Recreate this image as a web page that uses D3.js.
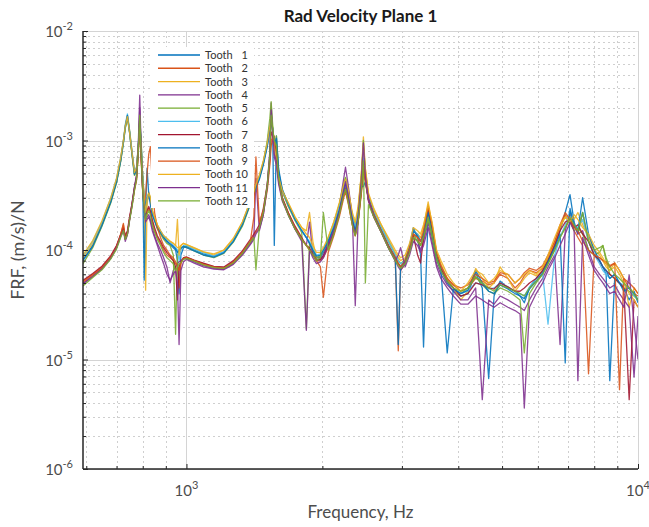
<!DOCTYPE html>
<html>
<head>
<meta charset="utf-8">
<script src="https://cdn.jsdelivr.net/npm/d3@7/dist/d3.min.js"></script>
<style>
  html, body { margin: 0; padding: 0; background: #fff; }
  svg { display: block; font-family: Lato, "Open Sans", "Noto Sans", sans-serif; }
</style>
</head>
<body>
<svg id="chart" width="649" height="527"></svg>
<script>
// ---------------- DATA ----------------
const freq = [
  590, 620, 650, 680, 700, 715, 725, 732, 740, 748,
  758, 767, 775, 782, 788, 794, 800, 806, 812, 818,
  825, 832, 840, 850, 862, 876, 890, 905, 920, 935,
  946, 955, 963, 972, 985, 1000, 1040, 1090, 1150, 1210,
  1270, 1330, 1385, 1410, 1425, 1450, 1480, 1510, 1530, 1540,
  1552, 1565, 1582, 1600, 1630, 1680, 1740, 1800, 1843, 1873,
  1905, 1940, 1980, 2010, 2060, 2120, 2180, 2230, 2250, 2280,
  2330, 2365, 2400, 2440, 2465, 2490, 2530, 2600, 2700, 2800,
  2900, 2945, 2980, 3050, 3120, 3180, 3250, 3300, 3350, 3430,
  3500, 3580, 3660, 3780, 3900, 4050, 4200, 4370, 4520, 4670,
  4800, 4950, 5150, 5340, 5480, 5600, 5750, 5950, 6150, 6320,
  6540, 6720, 6900, 7070, 7220, 7360, 7540, 7770, 8000, 8220,
  8360, 8500, 8660, 8880, 9100, 9300, 9560, 9800, 10000
];

const tooth1 = [
  8.2e-5, 1.1e-4, 1.7e-4, 2.8e-4, 4.2e-4, 6.5e-4, 9.5e-4, 1.3e-3, 1.65e-3, 1.2e-3,
  7.5e-4, 5.0e-4, 5.5e-4, 8.5e-4, 1.5e-3, 9e-4, 4.5e-4, 3.0e-4, 2.0e-4, 2.8e-4,
  3.2e-4, 2.8e-4, 2.2e-4, 1.9e-4, 1.6e-4, 1.45e-4, 1.3e-4, 1.2e-4, 1.12e-4, 1.05e-4,
  1.0e-4, 8e-5, 4e-5, 9e-5, 1.05e-4, 1.08e-4, 1.0e-4, 9.2e-5, 8.8e-5, 9.6e-5,
  1.2e-4, 1.7e-4, 2.7e-4, 3.3e-4, 3.8e-4, 4.6e-4, 6.2e-4, 9e-4, 1.3e-3, 1.6e-3,
  1.2e-3, 1.1e-4, 1.1e-3, 5.2e-4, 3.5e-4, 2.6e-4, 1.9e-4, 1.5e-4, 1.3e-4, 1.15e-4,
  9.5e-5, 8.5e-5, 8.5e-5, 9.5e-5, 1.2e-4, 1.6e-4, 2.4e-4, 3.6e-4, 4.2e-4, 3.3e-4,
  1.9e-4, 1.5e-4, 2.1e-4, 4e-4, 6.5e-4, 4.5e-4, 2.9e-4, 2.1e-4, 1.5e-4, 1.1e-4,
  8.5e-5, 7.5e-5, 7e-5, 8e-5, 1.1e-4, 1.6e-4, 1.3e-4, 9e-5, 1.3e-5, 2.1e-4,
  1.4e-4, 8.5e-5, 6.5e-5, 5e-5, 4.2e-5, 3.8e-5, 4e-5, 6.2e-5, 4.5e-5, 6.7e-6,
  3.8e-5, 5.2e-5, 4.5e-5, 4.2e-5, 3.8e-5, 3.3e-5, 4.5e-5, 5.5e-5, 6.5e-5, 8e-5,
  1.1e-4, 1.5e-4, 2.2e-4, 3.2e-4, 1.8e-4, 1.4e-4, 2.2e-4, 1.2e-4, 9e-5, 8e-5,
  7e-5, 6e-5, 6.4e-6, 5.5e-5, 5e-5, 4.5e-5, 3.5e-5, 4.2e-5, 3.3e-5
];
const tooth2 = [
  5.2e-5, 6e-5, 7e-5, 8.8e-5, 1.08e-4, 1.4e-4, 1.7e-4, 1.3e-4, 1.45e-4, 1.9e-4,
  2.6e-4, 3.6e-4, 4.4e-4, 7.5e-4, 1.5e-3, 6.5e-4, 3.4e-4, 2.4e-4, 2.0e-4, 2.2e-4,
  2.4e-4, 2.2e-4, 1.8e-4, 1.5e-4, 1.3e-4, 1.15e-4, 1.0e-4, 9e-5, 8.5e-5, 8e-5,
  7.5e-5, 7e-5, 4.5e-5, 7.5e-5, 8.5e-5, 8.6e-5, 8e-5, 7.5e-5, 7e-5, 6.9e-5,
  7.8e-5, 9.5e-5, 1.2e-4, 1.35e-4, 1.45e-4, 1.6e-4, 2.2e-4, 3.5e-4, 6e-4, 9e-4,
  1.0e-3, 1.1e-3, 8e-4, 4.5e-4, 3e-4, 2.2e-4, 1.6e-4, 1.25e-4, 1.1e-4, 1.0e-4,
  9e-5, 8e-5, 8e-5, 8.5e-5, 1.05e-4, 1.4e-4, 2.1e-4, 3.2e-4, 3.5e-4, 2.8e-4,
  1.7e-4, 1.35e-4, 1.8e-4, 3.3e-4, 5.5e-4, 4.2e-4, 2.8e-4, 2.0e-4, 1.45e-4, 1.05e-4,
  8e-5, 1.2e-5, 6.5e-5, 7.5e-5, 1.0e-4, 1.4e-4, 1.3e-4, 1.1e-4, 1.4e-4, 2.5e-4,
  1.6e-4, 9e-5, 7e-5, 5.5e-5, 4.8e-5, 4.2e-5, 4.5e-5, 5.5e-5, 5.2e-5, 4.8e-5,
  5e-5, 6e-5, 5.5e-5, 4.5e-5, 5e-5, 5.8e-5, 6.5e-5, 6.2e-5, 6.8e-5, 8.5e-5,
  1.15e-4, 1.6e-4, 2.1e-4, 1.8e-4, 1.5e-4, 1.3e-4, 1.1e-4, 7.4e-6, 9e-5, 8.5e-5,
  8e-5, 7.5e-5, 7e-5, 7.6e-5, 6.5e-5, 5.5e-5, 4.5e-5, 4e-5, 3.8e-5
];
const tooth3 = [
  8.5e-5, 1.15e-4, 1.75e-4, 2.9e-4, 4.4e-4, 6.8e-4, 1.0e-3, 1.35e-3, 1.7e-3, 1.25e-3,
  7.8e-4, 5.2e-4, 5.6e-4, 8.7e-4, 1.5e-3, 8e-4, 4.0e-4, 2.5e-4, 4.3e-5, 2.6e-4,
  3.4e-4, 3.0e-4, 2.3e-4, 2.0e-4, 1.7e-4, 1.5e-4, 1.35e-4, 1.25e-4, 1.2e-4, 1.15e-4,
  1.1e-4, 1.05e-4, 1.05e-4, 1.1e-4, 1.15e-4, 1.12e-4, 1.05e-4, 9.6e-5, 9e-5, 1.0e-4,
  1.25e-4, 1.8e-4, 2.8e-4, 3.4e-4, 3.9e-4, 4.8e-4, 6.5e-4, 9.5e-4, 1.4e-3, 1.8e-3,
  1.3e-3, 8.5e-4, 6e-4, 4.5e-4, 3.5e-4, 2.7e-4, 2.0e-4, 1.6e-4, 1.5e-4, 2.2e-4,
  1.2e-4, 8.5e-5, 9e-5, 1.0e-4, 1.3e-4, 1.8e-4, 2.6e-4, 3.9e-4, 4.5e-4, 3.6e-4,
  2.1e-4, 1.7e-4, 2.4e-4, 5e-4, 1.08e-3, 5.5e-4, 3.2e-4, 2.3e-4, 1.7e-4, 1.25e-4,
  9.5e-5, 8.5e-5, 8e-5, 8.5e-5, 1.1e-4, 1.5e-4, 1.4e-4, 1.3e-4, 1.6e-4, 2.75e-4,
  1.7e-4, 9.5e-5, 7.5e-5, 5.5e-5, 4.5e-5, 3.5e-5, 4.2e-5, 6.8e-5, 5.5e-5, 4.5e-5,
  5e-5, 7e-5, 5.5e-5, 4.2e-5, 4.8e-5, 5.5e-5, 6.2e-5, 5.8e-5, 6.5e-5, 8.5e-5,
  1.2e-4, 1.6e-4, 2e-4, 2.1e-4, 1.9e-4, 2.2e-4, 1.7e-4, 1.3e-4, 1e-4, 9e-5,
  8e-5, 7e-5, 6.5e-5, 7.6e-5, 6.5e-5, 5.5e-5, 3e-5, 4.5e-5, 4e-5
];
const tooth4 = [
  5e-5, 5.8e-5, 6.8e-5, 8.5e-5, 1.05e-4, 1.35e-4, 1.55e-4, 1.25e-4, 1.4e-4, 1.9e-4,
  2.7e-4, 3.8e-4, 4.8e-4, 9e-4, 2.6e-3, 8e-4, 3.6e-4, 2.5e-4, 1.9e-4, 2.0e-4,
  2.1e-4, 1.9e-4, 1.6e-4, 1.35e-4, 1.15e-4, 1.0e-4, 8.5e-5, 7e-5, 5e-5, 6.5e-5,
  7e-5, 7.5e-5, 7.8e-5, 8e-5, 8.3e-5, 8.4e-5, 7.8e-5, 7.2e-5, 6.8e-5, 6.7e-5,
  7.5e-5, 9.2e-5, 1.15e-4, 1.3e-4, 4.5e-4, 1.5e-4, 2.1e-4, 4e-4, 8e-4, 2.2e-3,
  1.2e-3, 7e-4, 6e-4, 4e-4, 2.8e-4, 2.1e-4, 1.55e-4, 1.25e-4, 1.1e-4, 1.8e-4,
  9e-5, 8e-5, 8.2e-5, 9e-5, 1.15e-4, 1.6e-4, 2.5e-4, 4.5e-4, 5.7e-4, 4e-4,
  2.0e-4, 3.1e-5, 1.9e-4, 3.8e-4, 7e-4, 4.5e-4, 2.8e-4, 2.0e-4, 1.45e-4, 1.05e-4,
  8e-5, 7e-5, 6.5e-5, 7.5e-5, 1.0e-4, 1.3e-4, 1.2e-4, 1.0e-4, 1.2e-4, 1.8e-4,
  1.2e-4, 7.5e-5, 6e-5, 4.8e-5, 4.2e-5, 3.5e-5, 3.5e-5, 4.5e-5, 4.3e-6, 3.5e-5,
  3.2e-5, 3.8e-5, 3.5e-5, 3.2e-5, 3e-5, 2.8e-5, 3.5e-5, 4.5e-5, 5.5e-5, 7e-5,
  9e-5, 1.37e-5, 1.5e-4, 2.2e-4, 1.7e-4, 1.4e-4, 1.5e-4, 1e-4, 7e-5, 6e-5,
  5.5e-5, 5e-5, 4.5e-5, 4.8e-5, 4e-5, 3.5e-5, 3e-5, 6.9e-6, 2.5e-5
];
const tooth5 = [
  7.5e-5, 1.05e-4, 1.65e-4, 2.7e-4, 4.1e-4, 6.4e-4, 9.5e-4, 1.3e-3, 1.6e-3, 1.2e-3,
  7.2e-4, 4.8e-4, 5.3e-4, 8.2e-4, 1.6e-3, 9.5e-4, 4.8e-4, 3.2e-4, 2.4e-4, 3.0e-4,
  3.3e-4, 2.9e-4, 2.2e-4, 1.85e-4, 1.55e-4, 1.4e-4, 1.25e-4, 1.15e-4, 1.1e-4, 9e-5,
  1.7e-5, 9e-5, 1.0e-4, 1.05e-4, 1.08e-4, 1.06e-4, 9.8e-5, 9e-5, 8.5e-5, 9.3e-5,
  1.18e-4, 1.65e-4, 2.6e-4, 3.2e-4, 3.7e-4, 4.5e-4, 6.2e-4, 1.0e-3, 1.6e-3, 2.26e-3,
  1.4e-3, 8e-4, 1.1e-3, 5e-4, 3.4e-4, 2.5e-4, 1.85e-4, 1.45e-4, 1.9e-5, 1.15e-4,
  1.0e-4, 8.5e-5, 8.8e-5, 1.0e-4, 1.25e-4, 1.7e-4, 2.6e-4, 4e-4, 4.6e-4, 3.5e-4,
  2.0e-4, 1.6e-4, 2.3e-4, 4.8e-4, 1.0e-3, 5.2e-4, 3.1e-4, 2.2e-4, 1.6e-4, 1.2e-4,
  9e-5, 8e-5, 7.5e-5, 8.2e-5, 1.05e-4, 1.4e-4, 1.2e-4, 1.1e-4, 1.3e-4, 1.9e-4,
  1.3e-4, 8e-5, 6.5e-5, 5.2e-5, 4.5e-5, 4e-5, 4.5e-5, 5.7e-5, 4.8e-5, 4.2e-5,
  4e-5, 4.5e-5, 4.2e-5, 3.8e-5, 3.5e-5, 1.15e-5, 4e-5, 5e-5, 6e-5, 7.5e-5,
  1e-4, 1.3e-4, 1.6e-4, 1.9e-4, 1.5e-4, 1.6e-4, 1.4e-4, 1.0e-4, 9e-5, 9.5e-5,
  1.1e-4, 8e-5, 6e-5, 5.5e-5, 5e-5, 4.5e-5, 4.2e-5, 3.8e-5, 3.5e-5
];
const tooth6 = [
  8.8e-5, 1.2e-4, 1.8e-4, 3.0e-4, 4.5e-4, 7e-4, 1.0e-3, 1.4e-3, 1.75e-3, 1.25e-3,
  7.8e-4, 5.2e-4, 5.7e-4, 8.8e-4, 1.55e-3, 8.8e-4, 4.4e-4, 2.9e-4, 2.3e-4, 2.9e-4,
  3.3e-4, 2.9e-4, 2.2e-4, 1.9e-4, 1.65e-4, 1.5e-4, 1.35e-4, 1.25e-4, 1.18e-4, 1.1e-4,
  1.05e-4, 1.0e-4, 8e-5, 1.0e-4, 1.1e-4, 1.1e-4, 1.02e-4, 9.4e-5, 8.8e-5, 9.6e-5,
  1.22e-4, 1.75e-4, 2.75e-4, 3.3e-4, 3.9e-4, 4.7e-4, 6.3e-4, 9.3e-4, 1.35e-3, 1.7e-3,
  1.25e-3, 8.2e-4, 7e-4, 4.8e-4, 3.5e-4, 2.6e-4, 1.9e-4, 1.5e-4, 1.3e-4, 1.2e-4,
  1.05e-4, 9e-5, 9.2e-5, 1.0e-4, 1.25e-4, 1.7e-4, 2.5e-4, 3.7e-4, 4.3e-4, 3.4e-4,
  2.0e-4, 1.6e-4, 2.2e-4, 4.4e-4, 8e-4, 4.8e-4, 3e-4, 2.2e-4, 1.6e-4, 1.2e-4,
  9e-5, 8e-5, 7.5e-5, 8e-5, 1.05e-4, 1.5e-4, 1.4e-4, 1.2e-4, 1.4e-4, 2.2e-4,
  1.5e-4, 9e-5, 7e-5, 5.2e-5, 4.5e-5, 4e-5, 4.2e-5, 5e-5, 4.8e-5, 4.4e-5,
  4.5e-5, 5e-5, 4.6e-5, 4.2e-5, 4e-5, 3.8e-5, 4.6e-5, 5.5e-5, 6e-5, 2.1e-5,
  9e-5, 1.3e-4, 1.7e-4, 2.3e-4, 1.7e-4, 1.6e-4, 1.9e-4, 1.2e-4, 9e-5, 7.5e-5,
  6.5e-5, 6e-5, 5.5e-5, 6e-5, 5e-5, 4.8e-5, 4.5e-5, 3.8e-5, 3.6e-5
];
const tooth7 = [
  5.3e-5, 6.1e-5, 7.1e-5, 8.9e-5, 1.1e-4, 1.38e-4, 1.6e-4, 1.35e-4, 1.5e-4, 2e-4,
  2.7e-4, 3.7e-4, 4.6e-4, 8e-4, 1.6e-3, 7e-4, 3.5e-4, 2.5e-4, 2.1e-4, 2.3e-4,
  2.5e-4, 2.3e-4, 1.9e-4, 1.6e-4, 1.35e-4, 1.2e-4, 1.05e-4, 9.5e-5, 8.8e-5, 8e-5,
  7e-5, 3.5e-5, 7e-5, 7.8e-5, 8.5e-5, 8.6e-5, 8.1e-5, 7.6e-5, 7.1e-5, 7e-5,
  8e-5, 9.8e-5, 1.25e-4, 1.4e-4, 1.5e-4, 1.7e-4, 2.4e-4, 4e-4, 7e-4, 1.2e-3,
  1.1e-3, 9e-4, 8.5e-4, 4.6e-4, 3e-4, 2.2e-4, 1.65e-4, 1.3e-4, 1.1e-4, 1.05e-4,
  9e-5, 8.2e-5, 8.2e-5, 8.8e-5, 1.1e-4, 1.45e-4, 2.2e-4, 3.3e-4, 3.7e-4, 2.9e-4,
  1.8e-4, 1.4e-4, 1.9e-4, 3.5e-4, 6e-4, 4.4e-4, 2.9e-4, 2.1e-4, 1.5e-4, 1.1e-4,
  8.5e-5, 7.5e-5, 7e-5, 7.8e-5, 1.0e-4, 1.35e-4, 9e-5, 7.6e-5, 1.3e-4, 2.3e-4,
  1.5e-4, 8.8e-5, 6.8e-5, 5.2e-5, 4.5e-5, 3.8e-5, 4e-5, 5e-5, 4.8e-5, 4.5e-5,
  4.4e-5, 5e-5, 4.6e-5, 4.2e-5, 4.2e-5, 4.5e-5, 5e-5, 5.5e-5, 6.5e-5, 8e-5,
  1.1e-4, 1.5e-4, 1.8e-4, 1.9e-4, 1.6e-4, 1.7e-4, 1.4e-4, 1.2e-4, 9e-5, 8e-5,
  7e-5, 6.5e-5, 6e-5, 5.5e-5, 5e-5, 4.5e-5, 4.3e-6, 3.5e-5, 3e-5
];
const tooth8 = [
  8e-5, 1.08e-4, 1.68e-4, 2.75e-4, 4.2e-4, 6.6e-4, 9.8e-4, 1.35e-3, 1.7e-3, 1.2e-3,
  7.4e-4, 4.9e-4, 5.4e-4, 8.4e-4, 1.45e-3, 8.5e-4, 4.2e-4, 5.3e-5, 2.4e-4, 5.6e-4,
  3.2e-4, 2.6e-4, 2.1e-4, 1.85e-4, 1.6e-4, 1.45e-4, 1.3e-4, 1.2e-4, 1.14e-4, 1.08e-4,
  1.03e-4, 9.5e-5, 1.0e-4, 1.03e-4, 1.08e-4, 1.05e-4, 9.8e-5, 9e-5, 8.6e-5, 9.4e-5,
  1.2e-4, 1.7e-4, 2.65e-4, 3.2e-4, 3.7e-4, 4.4e-4, 6e-4, 8.8e-4, 1.25e-3, 1.5e-3,
  1.3e-3, 9e-4, 1.05e-3, 5.5e-4, 3.6e-4, 2.6e-4, 1.9e-4, 1.5e-4, 1.3e-4, 1.15e-4,
  1.0e-4, 8.8e-5, 9e-5, 1.0e-4, 1.2e-4, 1.6e-4, 2.3e-4, 3.5e-4, 4e-4, 3.2e-4,
  1.9e-4, 1.5e-4, 2e-4, 3.8e-4, 3.8e-4, 4.2e-4, 2.9e-4, 2.1e-4, 1.5e-4, 1.1e-4,
  8.5e-5, 1.37e-5, 7e-5, 7.8e-5, 1.05e-4, 1.5e-4, 1.35e-4, 1.2e-4, 1.4e-4, 2.2e-4,
  1.4e-4, 8.5e-5, 6.5e-5, 1.15e-5, 4.4e-5, 4e-5, 4.3e-5, 6.5e-5, 5e-5, 4.2e-5,
  4e-5, 4.8e-5, 4.4e-5, 4e-5, 3.8e-5, 3.6e-5, 4.4e-5, 5.2e-5, 6.2e-5, 7.8e-5,
  1.05e-4, 1.4e-4, 9.3e-6, 2.4e-4, 1.7e-4, 1.5e-4, 3e-4, 1.4e-4, 1e-4, 8e-5,
  7e-5, 6.5e-5, 5.5e-5, 6e-5, 5e-5, 4.2e-5, 4.5e-5, 4e-5, 3.5e-5
];
const tooth9 = [
  5.1e-5, 5.9e-5, 6.9e-5, 8.6e-5, 1.06e-4, 1.38e-4, 1.75e-4, 1.25e-4, 1.4e-4, 1.9e-4,
  2.6e-4, 3.5e-4, 4.3e-4, 7.6e-4, 1.4e-3, 6.5e-4, 3.6e-4, 2.7e-4, 3.2e-4, 5e-4,
  7.5e-4, 8.8e-4, 4e-4, 2.2e-4, 1.6e-4, 1.3e-4, 1.1e-4, 1.0e-4, 9e-5, 8.5e-5,
  7.8e-5, 7.2e-5, 6.5e-5, 7.6e-5, 8.4e-5, 8.5e-5, 8e-5, 7.4e-5, 7e-5, 6.8e-5,
  7.7e-5, 9.5e-5, 1.2e-4, 2e-4, 7.1e-4, 1.8e-4, 2.3e-4, 3.8e-4, 6.5e-4, 1.0e-3,
  1.05e-3, 9.5e-4, 7.5e-4, 4.4e-4, 2.9e-4, 2.15e-4, 1.6e-4, 1.25e-4, 1.1e-4, 1.0e-4,
  9e-5, 8e-5, 7e-5, 3.7e-5, 9.5e-5, 1.35e-4, 2.0e-4, 3e-4, 3.4e-4, 2.7e-4,
  1.7e-4, 1.35e-4, 1.8e-4, 3.4e-4, 5.8e-4, 4.3e-4, 2.9e-4, 2.1e-4, 1.5e-4, 1.1e-4,
  8.5e-5, 7.5e-5, 7e-5, 8e-5, 1.05e-4, 1.4e-4, 1.3e-4, 1.2e-4, 1.5e-4, 2.5e-4,
  1.7e-4, 9.5e-5, 7.2e-5, 5.5e-5, 4.8e-5, 4.5e-5, 4.8e-5, 6e-5, 5.5e-5, 5e-5,
  5.2e-5, 6.2e-5, 6e-5, 5e-5, 5.5e-5, 6.2e-5, 6.8e-5, 6.5e-5, 7.2e-5, 9e-5,
  1.2e-4, 1.7e-4, 2.2e-4, 1.9e-4, 1.6e-4, 1.5e-4, 1.2e-4, 1.0e-4, 9e-5, 8.5e-5,
  8e-5, 7.8e-5, 7.2e-5, 7.6e-5, 5.3e-6, 5.5e-5, 5e-5, 4.5e-5, 4e-5
];
const tooth10 = [
  9e-5, 1.22e-4, 1.85e-4, 3.0e-4, 4.5e-4, 7e-4, 1.0e-3, 1.35e-3, 1.65e-3, 1.2e-3,
  7.6e-4, 5.1e-4, 5.6e-4, 8.6e-4, 1.45e-3, 8.6e-4, 4.3e-4, 2.9e-4, 2.2e-4, 2.9e-4,
  3.3e-4, 3.0e-4, 2.3e-4, 2.0e-4, 1.7e-4, 1.5e-4, 1.35e-4, 1.28e-4, 1.2e-4, 1.15e-4,
  1.1e-4, 1.9e-4, 9e-5, 1.1e-4, 1.15e-4, 1.12e-4, 1.04e-4, 9.6e-5, 9.2e-5, 1.0e-4,
  1.28e-4, 1.8e-4, 2.8e-4, 3.4e-4, 4e-4, 4.8e-4, 6.5e-4, 9.5e-4, 1.35e-3, 1.65e-3,
  1.25e-3, 8.5e-4, 6.5e-4, 4.6e-4, 3.5e-4, 2.7e-4, 2.0e-4, 1.6e-4, 1.4e-4, 1.3e-4,
  1.1e-4, 9.5e-5, 9.5e-5, 1.05e-4, 1.3e-4, 1.8e-4, 2.7e-4, 4e-4, 4.4e-4, 3.6e-4,
  2.2e-4, 1.8e-4, 2.5e-4, 5e-4, 9e-4, 5.5e-4, 3.3e-4, 2.4e-4, 1.7e-4, 1.3e-4,
  1.0e-4, 9e-5, 8.5e-5, 9e-5, 1.15e-4, 1.6e-4, 1.5e-4, 1.4e-4, 1.7e-4, 2.6e-4,
  1.8e-4, 1.0e-4, 8e-5, 6e-5, 5e-5, 4.2e-5, 5e-5, 6.5e-5, 6e-5, 5e-5,
  5.5e-5, 6.5e-5, 6e-5, 5e-5, 5.5e-5, 6e-5, 6.5e-5, 6e-5, 7e-5, 9e-5,
  1.3e-4, 1.7e-4, 2e-4, 1.8e-4, 2.1e-4, 1.9e-4, 1.6e-4, 1.4e-4, 1.1e-4, 9.5e-5,
  8.5e-5, 7.5e-5, 6.5e-5, 7e-5, 6e-5, 5e-5, 4e-5, 3.5e-5, 3e-5
];
const tooth11 = [
  4.9e-5, 5.7e-5, 6.7e-5, 8.4e-5, 1.04e-4, 1.33e-4, 1.5e-4, 1.2e-4, 1.38e-4, 1.85e-4,
  2.6e-4, 3.7e-4, 4.6e-4, 8.5e-4, 2.0e-3, 7.5e-4, 3.5e-4, 2.4e-4, 1.8e-4, 1.9e-4,
  2.0e-4, 1.8e-4, 1.5e-4, 1.3e-4, 1.1e-4, 9e-5, 7.5e-5, 6e-5, 5.3e-5, 6e-5,
  6.5e-5, 5e-5, 1.37e-5, 6.5e-5, 7.8e-5, 8.2e-5, 7.6e-5, 7e-5, 6.7e-5, 6.6e-5,
  7.4e-5, 9e-5, 1.12e-4, 1.25e-4, 1.4e-4, 1.55e-4, 2.1e-4, 3.8e-4, 7.5e-4, 1.9e-3,
  1.2e-3, 7.5e-4, 6.5e-4, 4.2e-4, 2.9e-4, 2.1e-4, 1.55e-4, 1.2e-4, 1.85e-5, 1.0e-4,
  8.5e-5, 7.5e-5, 7.8e-5, 8.5e-5, 1.1e-4, 1.5e-4, 2.2e-4, 3.5e-4, 4.2e-4, 3.2e-4,
  1.8e-4, 1.4e-4, 2.0e-4, 4.5e-4, 9.5e-4, 4.8e-4, 2.9e-4, 2.0e-4, 1.45e-4, 1.05e-4,
  8e-5, 9e-5, 1.05e-4, 7e-5, 9e-5, 1.2e-4, 1.1e-4, 9.5e-5, 1.1e-4, 1.6e-4,
  1.1e-4, 7e-5, 5.5e-5, 4.5e-5, 3.8e-5, 3.2e-5, 3.2e-5, 3.8e-5, 3.5e-5, 3.2e-5,
  3e-5, 3.3e-5, 3e-5, 2.8e-5, 2.6e-5, 3.6e-6, 3e-5, 4e-5, 5e-5, 6.5e-5,
  8.5e-5, 1.1e-4, 1.4e-4, 1.8e-4, 1.5e-4, 6.4e-6, 1.3e-4, 9e-5, 6.5e-5, 5.5e-5,
  5e-5, 4.5e-5, 4e-5, 4.2e-5, 3.5e-5, 3e-5, 5.9e-5, 2.2e-5, 1e-5
];
const tooth12 = [
  4.7e-5, 5.6e-5, 6.6e-5, 8.3e-5, 1.02e-4, 1.3e-4, 1.5e-4, 1.25e-4, 1.4e-4, 1.85e-4,
  2.5e-4, 3.5e-4, 4.4e-4, 7.8e-4, 1.7e-3, 7e-4, 3.4e-4, 2.4e-4, 1.9e-4, 2.1e-4,
  2.3e-4, 2.1e-4, 1.7e-4, 1.45e-4, 1.25e-4, 1.1e-4, 9.5e-5, 8.5e-5, 8e-5, 7.5e-5,
  6.5e-5, 7e-5, 7.5e-5, 7.7e-5, 8.2e-5, 8.4e-5, 7.9e-5, 7.3e-5, 6.9e-5, 6.8e-5,
  7.6e-5, 9.3e-5, 1.18e-4, 1.3e-4, 6.6e-5, 1.6e-4, 2.2e-4, 3.9e-4, 7.5e-4, 1.7e-3,
  1.3e-3, 1.0e-3, 9e-4, 4.5e-4, 2.9e-4, 2.1e-4, 1.55e-4, 1.25e-4, 1.1e-4, 1.0e-4,
  9e-5, 8e-5, 8.5e-5, 2.2e-4, 1.0e-4, 1.4e-4, 2.1e-4, 3.2e-4, 3.6e-4, 2.8e-4,
  1.7e-4, 1.35e-4, 1.8e-4, 3.6e-4, 6.5e-4, 5e-5, 2.6e-4, 2.0e-4, 1.45e-4, 1.05e-4,
  8e-5, 7.2e-5, 6.8e-5, 7.5e-5, 9.5e-5, 1.3e-4, 1.2e-4, 1.1e-4, 1.3e-4, 2.0e-4,
  1.4e-4, 8.5e-5, 6.5e-5, 5.2e-5, 4.5e-5, 4.2e-5, 4.5e-5, 5.7e-5, 5e-5, 4.5e-5,
  4.2e-5, 4.8e-5, 4.5e-5, 4.2e-5, 4e-5, 3.8e-5, 4.5e-5, 5.2e-5, 6e-5, 7.5e-5,
  1e-4, 1.3e-4, 1.6e-4, 2e-4, 1.7e-4, 1.5e-4, 2.2e-4, 1.2e-4, 1.0e-4, 1.05e-4,
  1.1e-4, 8.5e-5, 7e-5, 6e-5, 5.5e-5, 5e-5, 4.5e-5, 4e-5, 3.5e-5
];

const seriesNames = ["Tooth 1","Tooth 2","Tooth 3","Tooth 4","Tooth 5","Tooth 6",
                     "Tooth 7","Tooth 8","Tooth 9","Tooth 10","Tooth 11","Tooth 12"];
const seriesValues = [tooth1, tooth2, tooth3, tooth4, tooth5, tooth6,
                      tooth7, tooth8, tooth9, tooth10, tooth11, tooth12];
const colors = ["#0072BD","#D95319","#EDB120","#7E2F8E","#77AC30","#4DBEEE",
                "#A2142F","#0072BD","#D95319","#EDB120","#7E2F8E","#77AC30"];
const xMajorTicks = [1000, 10000];
const xTickExp = ["3", "4"];
const yMajorTicks = [1e-2, 1e-3, 1e-4, 1e-5, 1e-6];
const yTickExp = ["-2", "-3", "-4", "-5", "-6"];
const xDomain = [590, 10000];
const yDomain = [1e-6, 1e-2];

// ---------------- DRAW ----------------
const svg = d3.select("#chart");
const L = 83, R = 638, T = 31, B = 469;
const x = d3.scaleLog().domain(xDomain).range([L, R]);
const y = d3.scaleLog().domain(yDomain).range([B, T]);

const xMinor = [];
[100, 1000].forEach(d => { for (let k = 2; k <= 9; k++) { const v = d * k; if (v >= xDomain[0] && v < xDomain[1] && !xMajorTicks.includes(v)) xMinor.push(v); } });
const yMinor = [];
[1e-6, 1e-5, 1e-4, 1e-3].forEach(d => { for (let k = 2; k <= 9; k++) yMinor.push(d * k); });

const grid = svg.append("g");
grid.selectAll(".xmin").data(xMinor).join("line")
  .attr("x1", d => Math.round(x(d)) + 0.5).attr("x2", d => Math.round(x(d)) + 0.5)
  .attr("y1", T).attr("y2", B)
  .attr("stroke", "#cfcfcf").attr("stroke-width", 1).attr("stroke-dasharray", "2,3");
grid.selectAll(".ymin").data(yMinor).join("line")
  .attr("y1", d => Math.round(y(d)) + 0.5).attr("y2", d => Math.round(y(d)) + 0.5)
  .attr("x1", L).attr("x2", R)
  .attr("stroke", "#cfcfcf").attr("stroke-width", 1).attr("stroke-dasharray", "2,3");
grid.selectAll(".xmaj").data(xMajorTicks).join("line")
  .attr("x1", d => Math.round(x(d)) + 0.5).attr("x2", d => Math.round(x(d)) + 0.5)
  .attr("y1", T).attr("y2", B)
  .attr("stroke", "#d4d4d4").attr("stroke-width", 1);
grid.selectAll(".ymaj").data(yMajorTicks).join("line")
  .attr("y1", d => Math.round(y(d)) + 0.5).attr("y2", d => Math.round(y(d)) + 0.5)
  .attr("x1", L).attr("x2", R)
  .attr("stroke", "#d4d4d4").attr("stroke-width", 1);

svg.append("defs").append("clipPath").attr("id", "clip")
  .append("rect").attr("x", L).attr("y", T).attr("width", R - L).attr("height", B - T);

const line = d3.line().x((d, i) => x(freq[i])).y(d => y(d));
const lines = svg.append("g").attr("clip-path", "url(#clip)");
seriesValues.forEach((vals, i) => {
  lines.append("path").datum(vals)
    .attr("d", line)
    .attr("fill", "none")
    .attr("stroke", colors[i])
    .attr("stroke-width", 1.3)
    .attr("stroke-opacity", 0.88)
    .attr("stroke-linejoin", "round");
});

const axisColor = "#262626";
const xAxis = svg.append("g").attr("transform", `translate(0,${B})`)
  .call(d3.axisBottom(x).tickValues(xMajorTicks.concat(xMinor)).tickSize(-5).tickFormat(""));
xAxis.select(".domain").attr("stroke", axisColor).attr("stroke-width", 1.5).attr("d", `M${L},0H${R}`);
xAxis.selectAll(".tick line").attr("stroke", axisColor);

const yAxis = svg.append("g").attr("transform", `translate(${L},0)`)
  .call(d3.axisLeft(y).tickValues(yMajorTicks.concat(yMinor)).tickSize(-5).tickFormat(""));
yAxis.select(".domain").attr("stroke", axisColor).attr("stroke-width", 1.5).attr("d", `M0,${T}V${B}`);
yAxis.selectAll(".tick line").attr("stroke", axisColor);
yAxis.selectAll(".tick").filter(d => yMinor.includes(d)).select("line").attr("x2", 3);
xAxis.selectAll(".tick").filter(d => xMinor.includes(d)).select("line").attr("y2", -3);

const labelColor = "#4d4d4d";
xMajorTicks.forEach((t, i) => {
  const tx = svg.append("text").attr("x", x(t)).attr("y", 496)
    .attr("text-anchor", "middle").attr("fill", labelColor).attr("font-size", 15);
  tx.append("tspan").text("10");
  tx.append("tspan").attr("dy", -7).attr("font-size", 11).text(xTickExp[i]);
});
yMajorTicks.forEach((t, i) => {
  const ty = svg.append("text").attr("x", 73).attr("y", y(t) + 6)
    .attr("text-anchor", "end").attr("fill", labelColor).attr("font-size", 15);
  ty.append("tspan").text("10");
  ty.append("tspan").attr("dy", -7).attr("font-size", 11).text(yTickExp[i]);
});

svg.append("text").attr("x", (L + R) / 2).attr("y", 518).attr("text-anchor", "middle")
  .attr("fill", labelColor).attr("font-size", 17).text("Frequency, Hz");
svg.append("text").attr("transform", `translate(24,${(T + B) / 2}) rotate(-90)`)
  .attr("text-anchor", "middle").attr("fill", labelColor).attr("font-size", 18).text("FRF, (m/s)/N");
svg.append("text").attr("x", (L + R) / 2).attr("y", 22).attr("text-anchor", "middle")
  .attr("fill", "#1a1a1a").attr("font-size", 17).attr("font-weight", "bold").text("Rad Velocity Plane 1");

// legend
const lg = svg.append("g");
lg.append("rect").attr("x", 151).attr("y", 47).attr("width", 103).attr("height", 161).attr("fill", "#fff");
seriesNames.forEach((name, i) => {
  const yy = 55 + i * 13.27;
  lg.append("line").attr("x1", 158).attr("x2", 200).attr("y1", yy).attr("y2", yy)
    .attr("stroke", colors[i]).attr("stroke-width", 1.3);
  const parts = name.split(" ");
  const t = lg.append("text").attr("x", 205).attr("y", yy + 4).attr("fill", "#333").attr("font-size", 11);
  t.append("tspan").text(parts[0]);
  t.append("tspan").attr("x", 248).attr("text-anchor", "end").text(parts[1]);
});
</script>
</body>
</html>
